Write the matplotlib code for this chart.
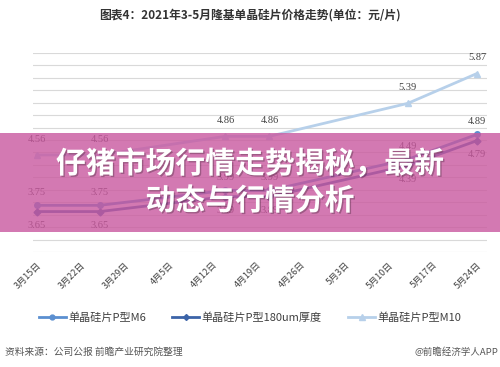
import matplotlib
matplotlib.use("Agg")
import matplotlib.pyplot as plt
import matplotlib.patheffects as pe
from matplotlib.patches import Rectangle
from matplotlib.lines import Line2D
import pandas as pd

plt.rcParams['font.family'] = ['Noto Sans CJK SC', 'DejaVu Sans']

# price announcement dates and prices (yuan / piece)
dates = ['2021-03-15', '2021-03-25', '2021-04-14', '2021-04-21', '2021-05-13', '2021-05-24']
m6 = [3.75, 3.75, 3.99, 3.99, 4.49, 4.89]
p180 = [3.65, 3.65, 3.89, 3.89, 4.39, 4.79]
m10 = [4.56, 4.56, 4.86, 4.86, 5.39, 5.87]
series_names = ['单晶硅片P型M6', '单晶硅片P型180um厚度', '单晶硅片P型M10']

title = '图表4：2021年3-5月隆基单晶硅片价格走势(单位：元/片)'
source = '资料来源：公司公报 前瞻产业研究院整理'
brand = '@前瞻经济学人APP'
banner = ['仔猪市场行情走势揭秘，最新', '动态与行情分析']

x = pd.to_datetime(dates)
ticks = pd.date_range('2021-03-15', '2021-05-24', freq='7D')
tick_labels = [f'{d.month}月{d.day}日' for d in ticks]

c_m6 = '#5b8fd0'
c_180 = '#3c64a8'
c_m10 = '#b7d0ea'

fig = plt.figure(figsize=(5, 3.67), dpi=100)
ax = fig.add_axes([0.066, 0.3134, 0.908, 0.5422])

ax.plot(x, m6, color=c_m6, lw=2, marker='o', ms=4, zorder=3)
ax.plot(x, p180, color=c_180, lw=2, marker='D', ms=3.5, zorder=3)
ax.plot(x, m10, color=c_m10, lw=2, marker='^', ms=4.5, zorder=3)

lab_font = dict(family='Liberation Serif', fontsize=7.5, color='#404040', ha='center')
for xi, v in zip(x, m10):
    ax.annotate(f'{v:.2f}', (xi, v), xytext=(0, 8), textcoords='offset points', va='bottom', **lab_font)
for xi, v in zip(x, m6):
    ax.annotate(f'{v:.2f}', (xi, v), xytext=(0, 6), textcoords='offset points', va='bottom', **lab_font)
for xi, v in zip(x, p180):
    ax.annotate(f'{v:.2f}', (xi, v), xytext=(0, -7), textcoords='offset points', va='top', **lab_font)

ax.set_ylim(3.0, 6.2)
ax.set_yticks([3.0 + 0.2 * i for i in range(17)])
ax.set_yticklabels([])
ax.tick_params(axis='y', length=0)
ax.grid(axis='y', color='#d9d9d9', lw=0.8)
ax.set_axisbelow(True)
ax.set_xlim(ticks[0] - pd.Timedelta(days=0.6), ticks[-1] + pd.Timedelta(days=1.6))
ax.set_xticks(ticks)
ax.set_xticklabels(tick_labels, rotation=45, ha='right', rotation_mode='anchor',
                   fontsize=6.5, color='#404040')
ax.tick_params(axis='x', length=0, pad=6)
for s in ax.spines.values():
    s.set_visible(False)

handles = [
    Line2D([], [], color=c_m6, lw=2, marker='o', ms=3.5),
    Line2D([], [], color=c_180, lw=2, marker='D', ms=3),
    Line2D([], [], color=c_m10, lw=2, marker='^', ms=4),
]
fig.legend(handles, series_names, loc='center', bbox_to_anchor=(0.5, 1 - 318 / 367),
           ncol=3, frameon=False, fontsize=8, handlelength=2.4, handletextpad=0.2,
           columnspacing=2.4, labelcolor='#404040')

fig.text(0.5, 1 - 15 / 367, title, ha='center', va='center', fontsize=8.5,
         fontweight='bold', color='#333333')
fig.text(0.01, 1 - 352 / 367, source, ha='left', va='center', fontsize=7, color='#555555')
fig.text(0.996, 1 - 352 / 367, brand, ha='right', va='center', fontsize=6.8, color='#555555')

# overlay banner
fig.patches.append(Rectangle((0, 1 - 232 / 367), 1, 99 / 367, transform=fig.transFigure,
                             facecolor='#c9589f', alpha=0.8, edgecolor='none', zorder=5))
shadow = [pe.withSimplePatchShadow(offset=(1, -1), shadow_rgbFace='#000000', alpha=0.25)]
fig.text(0.5, 1 - 164 / 367, banner[0], ha='center', va='center', fontsize=21.5,
         fontweight=900, color='white', zorder=6, path_effects=shadow)
fig.text(0.5, 1 - 201 / 367, banner[1], ha='center', va='center', fontsize=21.5,
         fontweight=900, color='white', zorder=6, path_effects=shadow)

fig.savefig('out.png', dpi=100)
